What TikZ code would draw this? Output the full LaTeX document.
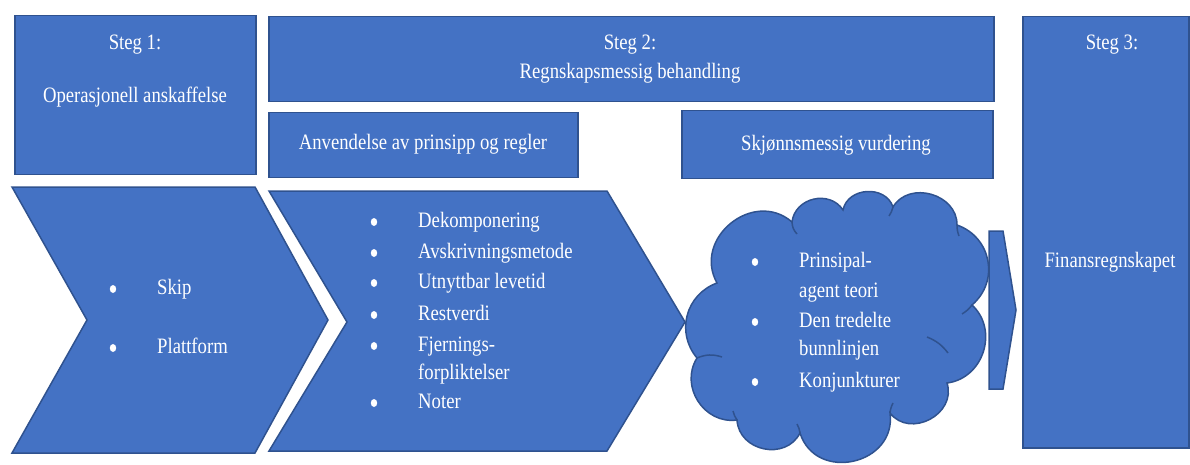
\documentclass[tikz,border=0pt]{standalone}
\usepackage{fontspec}
\setmainfont{Liberation Serif}[FakeStretch=0.85]
\definecolor{fillblue}{HTML}{4472C4}
\definecolor{edgeblue}{HTML}{2F528F}
\begin{document}
\begin{tikzpicture}[x=1pt,y=-1pt,
  shapebox/.style={fill=fillblue,draw=edgeblue,line width=1.5pt,inner sep=0pt,anchor=north west},
  lbl/.style={text=white,font=\fontsize{22}{30}\selectfont,inner sep=0pt,text height=15pt,text depth=5pt},
  itm/.style={lbl,anchor=west},
  bulletdot/.style={fill=white,draw=none},
  tail/.style={draw=edgeblue,line width=1.5pt},
]
\useasboundingbox (0,0) rectangle (1190,465);
% boxes
\node[shapebox,minimum width=241pt,minimum height=159pt] (s1) at (14,15) {};
\node[shapebox,minimum width=725pt,minimum height=85pt] (s2) at (268,16) {};
\node[shapebox,minimum width=309pt,minimum height=65pt] (anv) at (268,112) {};
\node[shapebox,minimum width=311pt,minimum height=68pt] (skj) at (681,110) {};
\node[shapebox,minimum width=166pt,minimum height=431pt] (s3) at (1022,16) {};
% chevrons
\draw[shapebox] (12,187) -- (255,187) -- (328,320) -- (255,453) -- (12,453) -- (87,320) -- cycle;
\draw[shapebox] (269,191) -- (607,191) -- (685,322) -- (607,451) -- (269,451) -- (347,322) -- cycle;
% cloud
\coordinate (p1) at (717,283);
\coordinate (p2) at (792,222);
\coordinate (p3) at (843,210);
\coordinate (p4) at (893,207);
\coordinate (p5) at (957,225);
\coordinate (p6) at (972,305);
\coordinate (p7) at (947,383);
\coordinate (p8) at (890,413);
\coordinate (p9) at (800,433);
\coordinate (p10) at (737,420);
\coordinate (p11) at (697,358);
\draw[shapebox] (p1) to[bend left=80,looseness=1.35] (p2)
  to[bend left=70,looseness=1.2] (p3)
  to[bend left=75,looseness=1.2] (p4)
  to[bend left=75,looseness=1.2] (p5)
  to[bend left=60,looseness=1.15] (p6)
  to[bend left=65,looseness=1.15] (p7)
  to[bend left=80,looseness=1.3] (p8)
  to[bend left=85,looseness=1.45] (p9)
  to[bend left=75,looseness=1.25] (p10)
  to[bend left=65,looseness=1.15] (p11)
  to[bend left=55,looseness=1.1] (p1) -- cycle;
\path[tail] (p11) to[bend left=20] (722,357);
\path[tail] (927,337) to[bend left=15] (948,353);
\path[tail] (p6) to[bend left=10] (962,314);
\path[tail] (p2) to[bend right=20] (797,234);
\path[tail] (p4) to[bend left=10] (889,216);
\path[tail] (p5) to[bend right=10] (959,236);
\path[tail] (p8) to[bend left=10] (893,403);
\path[tail] (p9) to[bend right=10] (797,424);
\path[tail] (p10) to[bend left=10] (733,411);
\coordinate (cl) at (837,326);
% small arrow
\draw[shapebox] (989,231) -- (1003,231) -- (1016,310) -- (1003,389) -- (989,389) -- cycle;
% texts
\node[lbl] (t1a) at (135,45) {Steg 1:};
\node[lbl] (t1b) at (135,98) {Operasjonell anskaffelse};
\node[lbl] (t2a) at (630,45) {Steg 2:};
\node[lbl] (t2b) at (630,74) {Regnskapsmessig behandling};
\node[lbl] (tanv) at (423,145) {Anvendelse av prinsipp og regler};
\node[lbl] (tskj) at (836,146) {Skjønnsmessig vurdering};
\node[lbl] (t3a) at (1112,45) {Steg 3:};
\node[lbl] (t3b) at (1110,262) {Finansregnskapet};
% list 1
\fill[bulletdot] (113,289) ellipse[x radius=3.2,y radius=4];
\node[itm] (i11) at (157,289) {Skip};
\fill[bulletdot] (113,348) ellipse[x radius=3.2,y radius=4];
\node[itm] (i12) at (157,348) {Plattform};
% list 2
\foreach \y/\t/\b [count=\k] in {222/Dekomponering/1,253/Avskrivningsmetode/1,283/Utnyttbar levetid/1,315/Restverdi/1,346/Fjernings-/1,374/forpliktelser/0,403/Noter/1}{
  \ifnum\b=1 \fill[bulletdot] (374,\y) ellipse[x radius=3.2,y radius=4];\fi
  \node[itm] (i2\k) at (418,\y) {\t};
}
% list 3
\foreach \y/\t/\b [count=\k] in {262/Prinsipal-/1,292/agent teori/0,322/Den tredelte/1,350/bunnlinjen/0,382/Konjunkturer/1}{
  \ifnum\b=1 \fill[bulletdot] (755,\y) ellipse[x radius=3.2,y radius=4];\fi
  \node[itm] (i3\k) at (799,\y) {\t};
}
\end{tikzpicture}
\end{document}
